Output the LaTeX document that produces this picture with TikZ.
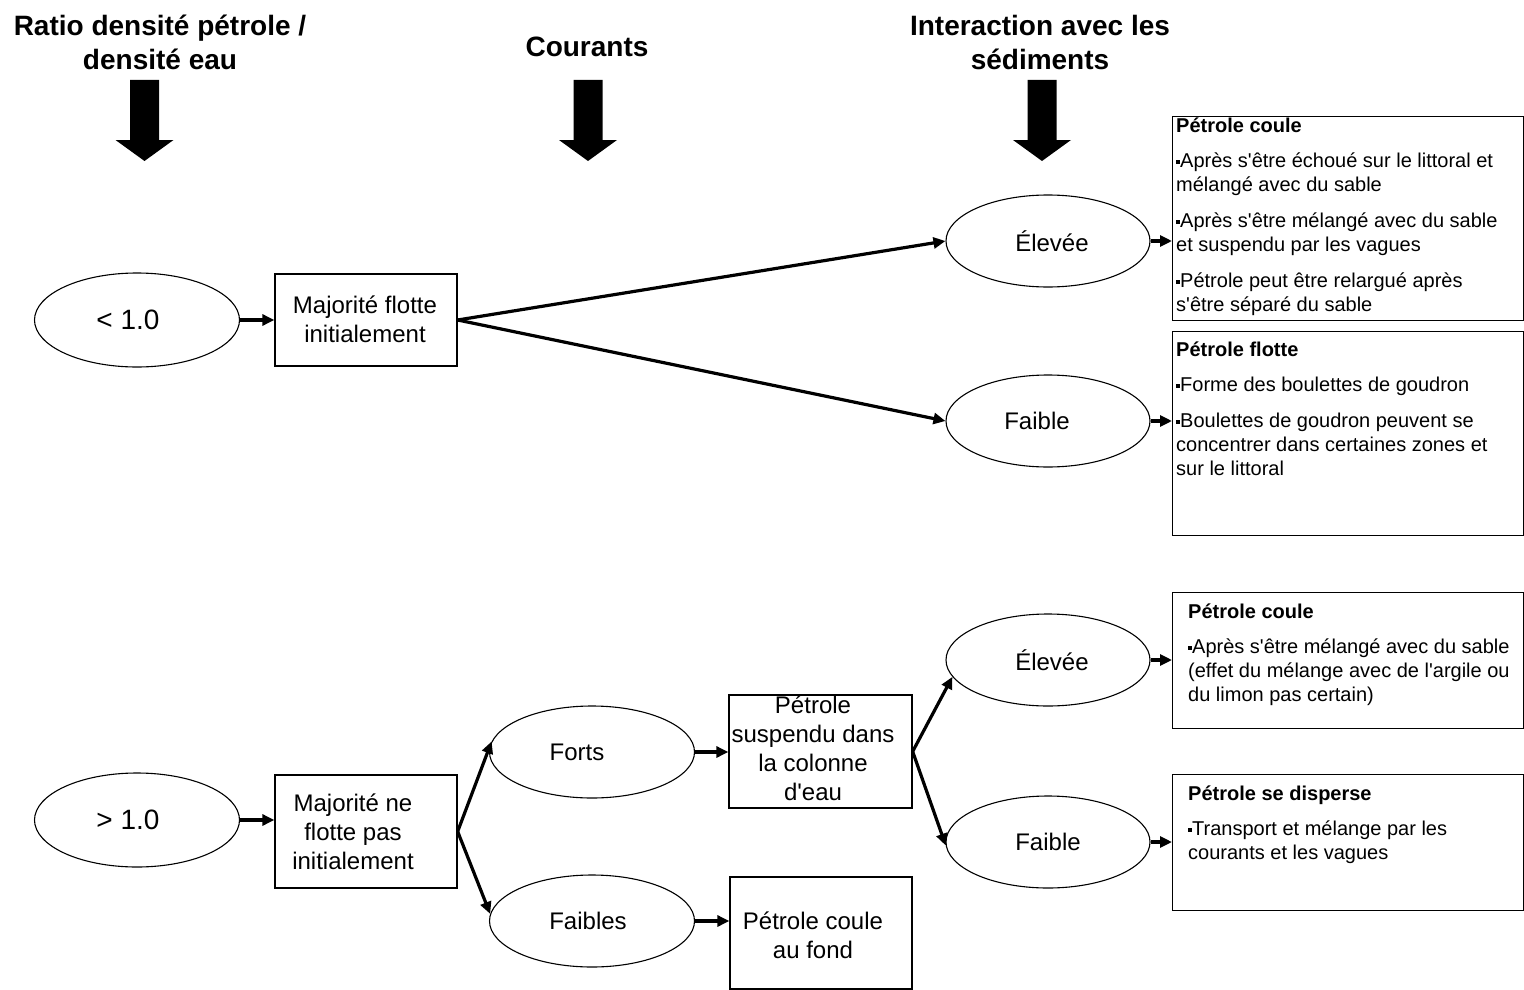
\documentclass[tikz,border=0pt]{standalone}
\usepackage{fontspec}
\setmainfont{Liberation Sans}[Ligatures=TeXOff]
\usetikzlibrary{shapes.geometric,arrows.meta}
\newcommand{\bul}{\rule[4pt]{4pt}{4pt}}
\begin{document}
\begin{tikzpicture}[x=1pt,y=-1pt,
 box/.style={draw, line width=1.3pt, inner sep=0pt, align=center},
 oval/.style={draw, ellipse, line width=1.1pt, inner sep=0pt, minimum width=204pt, minimum height=92pt},
 con/.style={line width=3.2pt, -{Triangle[length=12pt,width=11pt]}},
 body/.style={font=\fontsize{24}{29}\selectfont, align=center, inner sep=0pt},
 bigtxt/.style={font=\fontsize{28}{30}\selectfont, inner sep=0pt},
 head/.style={font=\bfseries\fontsize{28}{34}\selectfont, align=center, inner sep=0pt},
 info/.style={font=\fontsize{20}{24}\selectfont, align=left, anchor=north west, inner sep=0pt},
 infobox/.style={draw, line width=1.3pt, inner sep=0pt, anchor=north west, minimum width=351pt}
]
\useasboundingbox (0,0) rectangle (1524,990);

% headers
\node[head] (h1) at (160,42) {Ratio densité pétrole /\\densité eau};
\node[head] (h2) at (587,47) {Courants};
\node[head] (h3) at (1040,42) {Interaction avec les\\sédiments};

% big arrows
\foreach \cx in {144.5,588,1042}{
  \fill (\cx-14.5,80) -- (\cx+14.5,80) -- (\cx+14.5,140) -- (\cx+29,140)
        -- (\cx,161) -- (\cx-29,140) -- (\cx-14.5,140) -- cycle;
}

% upper branch
\node[oval, minimum width=205pt, minimum height=94pt] (lt) at (137,320) {};
\node[bigtxt] (ltt) at (128,320) {< 1.0};
\node[box, minimum width=182pt, minimum height=92pt] (m1) at (366,320) {};
\node[body] (m1t) at (365,319) {Majorité flotte\\initialement};
\node[oval] (e1) at (1048,241) {};
\node[body] (e1t) at (1052,241) {Élevée};
\node[oval] (f1) at (1048,421) {};
\node[body] (f1t) at (1037,421) {Faible};

\node[infobox, minimum height=204pt] (b1) at (1172,116) {};
\node[info] (t1) at (1176,118) {\textbf{Pétrole coule}\\[11pt]
\bul Après s'être échoué sur le littoral et\\
mélangé avec du sable\\[12pt]
\bul Après s'être mélangé avec du sable\\
et suspendu par les vagues\\[12pt]
\bul Pétrole peut être relargué après\\
s'être séparé du sable};

\node[infobox, minimum height=204pt] (b2) at (1172,331) {};
\node[info] (t2) at (1176,342) {\textbf{Pétrole flotte}\\[11pt]
\bul Forme des boulettes de goudron\\[12pt]
\bul Boulettes de goudron peuvent se\\
concentrer dans certaines zones et\\
sur le littoral};

% lower branch
\node[oval, minimum width=205pt, minimum height=94pt] (rt) at (137,820) {};
\node[bigtxt] (rtt) at (128,820) {> 1.0};
\node[box, minimum width=182pt, minimum height=113pt] (m2) at (366,831.5) {};
\node[body] (m2t) at (353,832) {Majorité ne\\flotte pas\\initialement};
\node[oval, minimum width=205pt] (fo) at (592,752) {};
\node[body] (fot) at (577,752) {Forts};
\node[oval, minimum width=205pt] (fa) at (592,921) {};
\node[body] (fat) at (588,921) {Faibles};
\node[box, minimum width=183pt, minimum height=113pt] (su) at (820.5,751.5) {};
\node[body] (sut) at (813,748) {Pétrole\\suspendu dans\\la colonne\\d'eau};
\node[box, minimum width=182pt, minimum height=112pt] (cf) at (821,933) {};
\node[body] (cft) at (813,935) {Pétrole coule\\au fond};
\node[oval] (e2) at (1048,660) {};
\node[body] (e2t) at (1052,660) {Élevée};
\node[oval] (f2) at (1048,842) {};
\node[body] (f2t) at (1048,842) {Faible};

\node[infobox, minimum height=136pt] (b3) at (1172,592) {};
\node[info] (t3) at (1188,604) {\textbf{Pétrole coule}\\[11pt]
\bul Après s'être mélangé avec du sable\\
(effet du mélange avec de l'argile ou\\
du limon pas certain)};

\node[infobox, minimum height=136pt] (b4) at (1172,774) {};
\node[info] (t4) at (1188,786) {\textbf{Pétrole se disperse}\\[11pt]
\bul Transport et mélange par les\\
courants et les vagues};

% connectors
\draw[con] (lt.east) -- (lt.east -| m1.west);
\draw[con] (m1.east) -- (e1.west);
\draw[con] (m1.east) -- (f1.west);
\draw[con] (e1.east) -- (e1.east -| b1.west);
\draw[con] (f1.east) -- (f1.east -| b2.west);

\draw[con] (rt.east) -- (rt.east -| m2.west);
\draw[con] (m2.east) -- (fo.174);
\draw[con] (m2.east) -- (fa.176);
\draw[con] (fo.east) -- (fo.east -| su.west);
\draw[con] (fa.east) -- (fa.east -| cf.west);
\draw[con] (su.east) -- (e2.190);
\draw[con] (su.east) -- (f2.182);
\draw[con] (e2.east) -- (e2.east -| b3.west);
\draw[con] (f2.east) -- (f2.east -| b4.west);
\end{tikzpicture}
\end{document}
